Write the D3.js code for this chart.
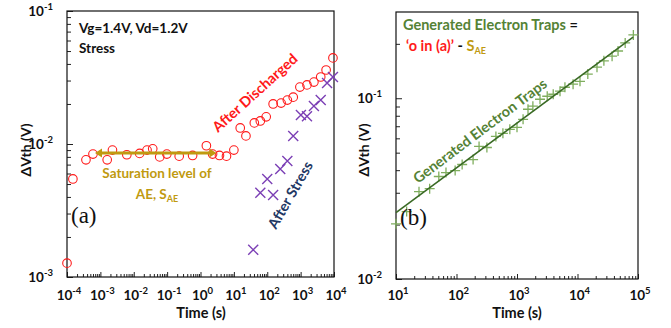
<!DOCTYPE html>
<html>
<head>
<meta charset="utf-8">
<title>Electron traps</title>
<script src="https://cdn.jsdelivr.net/npm/d3@7/dist/d3.min.js"></script>
<style>
  body { margin: 0; background: #fff; }
  svg text { font-family: Lato, "Open Sans", sans-serif; font-weight: bold; }
  svg text.panel { font-family: "Liberation Serif", "Times New Roman", serif; font-weight: normal; }
</style>
</head>
<body>
<div id="root"></div>
<script>
// panel (a): after discharged (circles)
const discT = [1e-4, 1.5e-4, 3.7e-4, 6e-4, 1.6e-3, 2.3e-3, 6.2e-3, 0.015, 0.025, 0.037, 0.06, 0.098,
  0.23, 0.58, 1.5, 2.3, 3.7, 6, 10, 15.5, 23, 41, 62, 93, 150, 260, 400, 600, 950, 1550, 2500, 4000, 5800, 9300];
const discV = [0.00127, 0.00546, 0.0076, 0.0084, 0.0076, 0.0090, 0.0083, 0.0085, 0.0090, 0.0092, 0.0080, 0.0084,
  0.0081, 0.0082, 0.0097, 0.0084, 0.0082, 0.0081, 0.0090, 0.0132, 0.0115, 0.0144, 0.0149, 0.0160, 0.0200, 0.0203,
  0.0214, 0.0225, 0.0268, 0.0278, 0.0292, 0.0319, 0.0360, 0.0444];
// panel (a): after stress (crosses)
const stressT = [38, 62, 100, 150, 245, 400, 600, 1020, 1550, 2500, 4000, 6200, 9300];
const stressV = [0.0016, 0.0043, 0.00546, 0.00414, 0.0065, 0.00745, 0.0115, 0.0165, 0.0162, 0.0193, 0.0214, 0.0288, 0.0319];
// saturation level S_AE (double arrow)
const satT = [6.9e-4, 3.0];
const satV = 0.00855;

// panel (b): generated electron traps
const genT = [10, 15, 24, 36, 51, 67, 95, 124, 188, 236, 318, 448, 585, 761, 1000, 1260, 1520, 1830, 2400,
  3160, 3970, 5140, 6200, 8450, 11000, 14800, 21000, 27300, 37300, 46800, 61400, 83800];
const genV = [0.0202, 0.0236, 0.0304, 0.0316, 0.0369, 0.0388, 0.0398, 0.0430, 0.0458, 0.0541, 0.0534, 0.0615,
  0.0640, 0.0673, 0.0690, 0.0764, 0.0869, 0.0904, 0.0987, 0.1026, 0.1052, 0.1094, 0.115, 0.1197, 0.124, 0.136,
  0.1486, 0.161, 0.171, 0.1825, 0.2022, 0.224];
// fitted line end points
const fitT = [10, 83000];
const fitV = [0.0233, 0.218];

const xTicksA = [-4, -3, -2, -1, 0, 1, 2, 3, 4];
const yTicksA = [-3, -2, -1];
const xTicksB = [1, 2, 3, 4, 5];
const yTicksB = [-2, -1];

const width = 671, height = 328;
const svg = d3.select("#root").append("svg")
  .attr("width", width).attr("height", height);

const xA = d3.scaleLog().domain([1e-4, 1e4]).range([67, 334]);
const yA = d3.scaleLog().domain([1e-3, 1e-1]).range([277, 11]);
const xB = d3.scaleLog().domain([10, 1e5]).range([396, 638]);
const yB = d3.scaleLog().domain([0.01, 0.3]).range([279, 12]);

// minor tick values between decades
function minors(lo, hi) {
  const out = [];
  for (let e = lo; e < hi; e++)
    for (let m = 2; m <= 9; m++) out.push(m * Math.pow(10, e));
  return out;
}

// "10" with superscript exponent
function powLabel(sel, e, x, y, anchor) {
  const t = sel.append("text").attr("x", x).attr("y", y)
    .attr("text-anchor", anchor).attr("font-size", 13.5).attr("fill", "#111");
  t.append("tspan").text("10");
  t.append("tspan").attr("dy", -6).attr("font-size", 9.5).text(e);
  return t;
}

function drawFrame(x, y, xt, yt, xMinor, yMinor) {
  const [x0, x1] = x.range(), [y0, y1] = y.range();
  const g = svg.append("g");
  // minor ticks inside
  g.append("g").attr("transform", "translate(0," + y0 + ")")
    .call(d3.axisBottom(x).tickValues(xMinor).tickSize(-3).tickFormat(""))
    .call(a => a.select(".domain").remove());
  g.append("g").attr("transform", "translate(" + x0 + ",0)")
    .call(d3.axisLeft(y).tickValues(yMinor).tickSize(-4).tickFormat(""))
    .call(a => a.select(".domain").remove());
  // major ticks
  g.append("g").attr("transform", "translate(0," + y0 + ")")
    .call(d3.axisBottom(x).tickValues(xt.map(e => Math.pow(10, e))).tickSize(-5).tickFormat(""))
    .call(a => a.select(".domain").remove());
  g.append("g").attr("transform", "translate(" + x0 + ",0)")
    .call(d3.axisLeft(y).tickValues(yt.map(e => Math.pow(10, e)).filter(v => v >= y.domain()[0] && v <= y.domain()[1]))
      .tickSize(-6).tickFormat(""))
    .call(a => a.select(".domain").remove());
  g.selectAll(".tick line").attr("stroke", "#222");
  g.append("rect").attr("x", x0).attr("y", y1).attr("width", x1 - x0).attr("height", y0 - y1)
    .attr("fill", "none").attr("stroke", "#111").attr("stroke-width", 1.2);
  // labels
  xt.forEach(e => powLabel(svg, e, x(Math.pow(10, e)) + 2, 300, "middle"));
  yt.forEach(e => powLabel(svg, e, x0 - 14, y(Math.pow(10, e)) + 5, "end"));
}

drawFrame(xA, yA, xTicksA, yTicksA, minors(-4, 4), minors(-3, -1));
drawFrame(xB, yB, xTicksB, yTicksB, minors(1, 5), minors(-2, 0).filter(v => v <= 0.3));

// axis titles
[[201, 31], [517, 369]].forEach(([cx, ty]) => {
  svg.append("text").attr("x", cx).attr("y", 318).attr("text-anchor", "middle")
    .attr("font-size", 14.5).attr("fill", "#111").text("Time (s)");
  svg.append("text").attr("transform", "translate(" + ty + ",150) rotate(-90)")
    .attr("text-anchor", "middle").attr("font-size", 14).attr("fill", "#111").text("ΔVth (V)");
});

// ---- panel (a) marks
svg.append("g").selectAll("circle").data(discT).enter().append("circle")
  .attr("cx", d => xA(d)).attr("cy", (d, i) => yA(discV[i])).attr("r", 4.3)
  .attr("fill", "none").attr("stroke", "#ff1a1a").attr("stroke-width", 1.1);

const cross = (g, x, y, s, col, w) => {
  g.append("path").attr("d", `M${x - s},${y - s}L${x + s},${y + s}M${x - s},${y + s}L${x + s},${y - s}`)
    .attr("stroke", col).attr("stroke-width", w).attr("fill", "none");
};
const gs = svg.append("g");
stressT.forEach((t, i) => cross(gs, xA(t), yA(stressV[i]), 5, "#7b3fb5", 1.4));

// saturation arrow
const gold = "#c09a10";
const sx0 = xA(satT[0]), sx1 = xA(satT[1]), sy = yA(satV);
svg.append("line").attr("x1", sx0 + 4).attr("x2", sx1 - 4).attr("y1", sy).attr("y2", sy)
  .attr("stroke", gold).attr("stroke-width", 3);
svg.append("path").attr("d", `M${sx0},${sy}l7,-4.5v9z M${sx1},${sy}l-7,-4.5v9z`).attr("fill", gold);

svg.append("text").attr("x", 79).attr("y", 33).attr("font-size", 13.5).attr("fill", "#111").text("Vg=1.4V, Vd=1.2V");
svg.append("text").attr("x", 79).attr("y", 53).attr("font-size", 13.5).attr("fill", "#111").text("Stress");

svg.append("text").attr("x", 157).attr("y", 178).attr("text-anchor", "middle")
  .attr("font-size", 13.5).attr("fill", gold).text("Saturation level of");
const ae = svg.append("text").attr("x", 157).attr("y", 199).attr("text-anchor", "middle")
  .attr("font-size", 13.5).attr("fill", gold);
ae.append("tspan").text("AE, S");
ae.append("tspan").attr("dy", 3).attr("font-size", 9).text("AE");

svg.append("text").attr("transform", "translate(218,133) rotate(-42)")
  .attr("font-size", 14.5).attr("fill", "#ff1a1a").text("After Discharged");
svg.append("text").attr("transform", "translate(276,230) rotate(-60)")
  .attr("font-size", 14.5).attr("fill", "#1f3864").text("After Stress");

svg.append("text").attr("class", "panel").attr("x", 71).attr("y", 223)
  .attr("font-size", 23).attr("fill", "#111").text("(a)");

// ---- panel (b) marks
const gg = svg.append("g");
genT.forEach((t, i) => {
  const x = xB(t), y = yB(genV[i]);
  gg.append("path").attr("d", `M${x - 5},${y}H${x + 5}M${x},${y - 5}V${y + 5}`)
    .attr("stroke", "#7fae5e").attr("stroke-width", 1.3);
});
svg.append("line").attr("x1", xB(fitT[0])).attr("y1", yB(fitV[0]))
  .attr("x2", xB(fitT[1])).attr("y2", yB(fitV[1]))
  .attr("stroke", "#3a6a25").attr("stroke-width", 1.6);

const green = "#548235";
const l1 = svg.append("text").attr("x", 403).attr("y", 30).attr("font-size", 14.5);
l1.append("tspan").attr("fill", green).text("Generated Electron Traps ");
l1.append("tspan").attr("fill", "#111").text("=");
const l2 = svg.append("text").attr("x", 406).attr("y", 51).attr("font-size", 14.5);
l2.append("tspan").attr("fill", "#ff1a1a").text("\u2018o in (a)\u2019");
l2.append("tspan").attr("fill", "#111").text(" - ");
l2.append("tspan").attr("fill", gold).text("S");
l2.append("tspan").attr("fill", gold).attr("dy", 3).attr("font-size", 9).text("AE");

svg.append("text").attr("transform", "translate(418,184) rotate(-37)")
  .attr("font-size", 14.5).attr("fill", green).text("Generated Electron Traps");

svg.append("text").attr("class", "panel").attr("x", 400).attr("y", 225)
  .attr("font-size", 23).attr("fill", "#111").text("(b)");
</script>
</body>
</html>
